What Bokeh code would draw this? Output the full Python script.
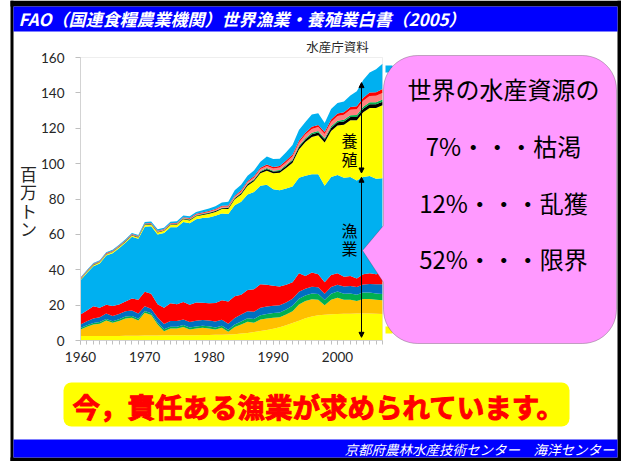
from bokeh.plotting import figure
from bokeh.models import (Range1d, FixedTicker, BoxAnnotation, PolyAnnotation,
                          Label, Arrow, NormalHead, ColumnDataSource, LinearAxis)
from bokeh.embed import file_html
from bokeh.resources import INLINE
import math

# ---------------- data (million tonnes, stacked layers) ----------------
years = list(range(1960, 2008))

cap_yellow = [2.5,2.5,2.5,2.5,2.6,2.6,2.6,2.7,2.7,2.7,
              2.8,2.8,2.8,2.9,3.0,3.0,3.0,3.0,3.0,3.1,
              3.1,3.2,3.3,3.4,3.6,3.9,4.3,4.8,5.4,6.0,
              6.6,7.5,8.6,9.9,11.2,12.6,13.6,14.3,14.6,14.8,
              15.0,15.1,15.1,15.2,15.2,15.2,15.1,15.0]
cap_orange = [3.7,5.3,6.5,7.0,8.7,7.4,8.4,9.8,10.2,8.6,
              12.9,11.6,6.2,2.4,3.8,3.8,4.6,3.2,3.8,4.1,
              3.7,3.0,3.9,1.5,4.0,5.1,6.3,5.2,6.5,6.5,
              6.3,5.7,6.1,6.7,9.2,9.7,9.7,8.7,5.3,8.2,
              9.2,7.9,7.9,7.1,8.3,8.3,7.9,7.7]
cap_green = [0.8,0.8,0.9,0.9,0.9,0.9,1.0,1.0,1.0,1.0,
             1.0,1.0,1.0,1.0,1.0,1.0,1.1,1.1,1.1,1.1,
             1.2,1.2,1.2,1.2,1.5,1.7,2.0,2.2,2.4,2.5,
             2.6,2.6,2.8,3.0,3.2,3.2,3.3,3.3,3.0,3.4,
             3.5,3.5,3.6,3.6,3.7,3.7,3.6,3.6]
cap_blue = [2.0,2.3,2.6,2.8,3.0,3.0,3.0,3.0,3.0,3.0,
            2.6,2.6,3.0,3.0,3.2,3.2,3.2,3.2,3.2,3.3,
            3.3,3.3,3.4,3.4,3.6,4.0,4.0,4.0,4.2,4.2,
            4.2,4.2,4.0,4.0,4.0,3.8,3.8,3.8,3.6,3.8,
            3.8,4.0,4.2,4.4,4.4,4.8,5.2,5.5]
cap_red = [5.7,6.1,6.8,5.3,5.0,5.6,5.4,5.5,6.9,7.7,
           8.3,8.5,7.5,9.2,10.0,9.5,9.9,9.7,10.4,9.7,
           9.7,10.5,10.9,12.5,12.3,11.1,11.9,12.8,13.3,12.3,
           11.3,10.5,10.0,9.4,10.4,7.2,8.1,7.4,6.5,6.8,
           6.5,5.5,5.7,4.7,5.9,6.0,5.7,6.2]
cap_sky = [19.3,21.2,22.7,25.1,27.8,29.8,31.8,33.2,34.8,34.5,
           36.7,38.1,39.5,42.3,43.0,43.5,45.2,46.1,47.0,47.9,
           48.6,49.3,49.1,49.5,51.5,52.7,54.0,55.0,55.7,56.5,
           54.5,54.5,54.5,54.0,54.0,56.7,55.5,56.5,54.5,55.5,
           55.6,56.0,56.0,55.5,55.0,55.0,54.0,53.7]
aq_yellow = [0.5,0.5,0.6,0.6,0.6,0.7,0.7,0.7,0.8,0.8,
             1.0,1.0,1.1,1.2,1.3,1.4,1.5,1.6,1.7,1.8,
             2.0,2.2,2.5,2.8,3.3,4.0,5.0,6.0,7.0,8.0,
             9.0,9.8,11.5,13.5,16.0,19.0,21.0,22.0,24.5,26.0,
             28.0,30.0,32.0,34.0,36.5,38.5,40.0,41.3]
aq_black = [0.2,0.2,0.2,0.2,0.2,0.2,0.2,0.2,0.2,0.2,
            0.3,0.3,0.3,0.3,0.3,0.3,0.4,0.4,0.4,0.4,
            0.5,0.5,0.5,0.6,0.6,0.7,0.8,0.8,0.9,1.0,
            1.0,1.1,1.2,1.3,1.4,1.5,1.6,1.6,1.6,1.7,
            1.8,1.8,1.9,1.9,2.0,2.0,2.0,2.0]
aq_green = [0.1,0.1,0.1,0.1,0.1,0.1,0.1,0.1,0.1,0.1,
            0.1,0.1,0.1,0.1,0.1,0.2,0.2,0.2,0.2,0.2,
            0.2,0.2,0.3,0.3,0.3,0.3,0.4,0.4,0.4,0.5,
            0.5,0.5,0.6,0.6,0.7,0.7,0.8,0.8,0.8,0.9,
            0.9,1.0,1.0,1.1,1.1,1.2,1.2,1.2]
aq_salmon = [0.2,0.2,0.2,0.2,0.2,0.2,0.2,0.2,0.2,0.2,
             0.2,0.2,0.3,0.3,0.3,0.3,0.3,0.4,0.4,0.4,
             0.5,0.5,0.6,0.6,0.7,0.8,0.9,1.0,1.1,1.2,
             1.3,1.4,1.5,1.7,1.9,2.0,2.2,2.3,2.3,2.5,
             2.6,2.8,3.0,3.2,3.4,3.6,3.7,3.8]
aq_red = [0.3,0.3,0.3,0.3,0.3,0.3,0.3,0.3,0.3,0.3,
          0.3,0.3,0.3,0.3,0.3,0.3,0.3,0.4,0.4,0.4,
          0.4,0.4,0.5,0.5,0.5,0.6,0.6,0.7,0.7,0.8,
          0.8,0.9,0.9,1.0,1.0,1.1,1.2,1.2,1.2,1.3,
          1.4,1.5,1.6,1.7,1.8,1.9,2.0,2.2]
aq_sky = [0.3,0.3,0.4,0.4,0.5,0.5,0.5,0.5,0.6,0.6,
          0.8,0.8,0.8,0.8,0.9,0.9,1.0,1.0,1.1,1.2,
          1.4,1.6,1.8,2.2,3.0,3.2,3.0,3.2,3.5,4.5,
          4.5,4.0,4.8,5.4,6.0,6.0,7.0,6.6,5.0,6.0,
          6.0,6.0,6.5,8.5,10.0,11.3,13.0,14.3]

series = ["cap_yellow", "cap_orange", "cap_green", "cap_blue", "cap_red", "cap_sky",
          "aq_yellow", "aq_black", "aq_green", "aq_salmon", "aq_red", "aq_sky"]
colors = ["#FFFF00", "#FFC000", "#00B050", "#0070C0", "#FF0000", "#00B0F0",
          "#FFFF00", "#000000", "#00B050", "#FF8080", "#FF0000", "#00B0F0"]

y_ticks = [0, 20, 40, 60, 80, 100, 120, 140, 160]
x_ticks = [1960, 1970, 1980, 1990, 2000]
Y_MAX = 160

# ---------------- layout constants (canvas pixels, y downward) ----------------
W, H = 621, 461
FL, FR, FT, FB = 80, 382, 57, 340   # plot area of the chart

kx = (FR - FL) / (years[-1] - years[0])
ky = (FB - FT) / Y_MAX

source = ColumnDataSource(dict(year=years, cap_yellow=cap_yellow, cap_orange=cap_orange,
                               cap_green=cap_green, cap_blue=cap_blue, cap_red=cap_red,
                               cap_sky=cap_sky, aq_yellow=aq_yellow, aq_black=aq_black,
                               aq_green=aq_green, aq_salmon=aq_salmon, aq_red=aq_red,
                               aq_sky=aq_sky))

# the frame covers the whole slide; default ranges are slide pixels,
# the chart uses its own ranges mapped onto the plot area
p = figure(width=W, height=H, output_backend="svg", toolbar_location=None,
           x_range=Range1d(0, W), y_range=Range1d(H, 0),
           x_axis_type=None, y_axis_type=None,
           min_border=0, min_border_left=0, min_border_right=0,
           min_border_top=0, min_border_bottom=0)
p.title.visible = False
p.background_fill_color = "white"
p.border_fill_color = "white"
p.outline_line_color = None
p.xgrid.visible = False
p.ygrid.visible = False
p.extra_x_ranges = {"yr": Range1d(years[0] - FL / kx, years[-1] + (W - FR) / kx)}
p.extra_y_ranges = {"mt": Range1d(0 - (H - FB) / ky, Y_MAX + FT / ky)}

p.varea_stack(stackers=series, x="year", color=colors, source=source,
              x_range_name="yr", y_range_name="mt")

# plot-area border
p.add_layout(BoxAnnotation(left=years[0], right=years[-1], bottom=0, top=Y_MAX,
                           x_range_name="yr", y_range_name="mt",
                           fill_alpha=0, line_color="#C8C8C8", line_width=1))

# axes
yaxis = LinearAxis(x_range_name="yr", y_range_name="mt", fixed_location=years[0],
                   bounds=(0, Y_MAX), ticker=FixedTicker(ticks=y_ticks))
yaxis.axis_line_color = "#D9D9D9"
yaxis.major_tick_line_color = "#BFBFBF"
yaxis.major_tick_out = 5
yaxis.major_tick_in = 0
yaxis.minor_tick_line_color = None
yaxis.major_label_standoff = 11
yaxis.major_label_text_font = "Lato"
yaxis.major_label_text_font_size = "13.5px"
yaxis.major_label_text_color = "#262626"
p.add_layout(yaxis, "left")

xaxis = LinearAxis(x_range_name="yr", y_range_name="mt", fixed_location=0,
                   bounds=(years[0], years[-1]),
                   ticker=FixedTicker(ticks=x_ticks, minor_ticks=years))
xaxis.axis_line_color = "#D9D9D9"
xaxis.major_tick_line_color = "#BFBFBF"
xaxis.minor_tick_line_color = "#BFBFBF"
xaxis.major_tick_out = 4
xaxis.major_tick_in = 0
xaxis.minor_tick_out = 4
xaxis.minor_tick_in = 0
xaxis.major_label_standoff = 7
xaxis.major_label_text_font = "Lato"
xaxis.major_label_text_font_size = "13.5px"
xaxis.major_label_text_color = "#262626"
p.add_layout(xaxis, "below")


def box(l, t, r, b, color, radius=0, line=None):
    p.add_layout(BoxAnnotation(left=l, right=r, top=t, bottom=b,
                               fill_color=color, fill_alpha=1.0,
                               line_color=line, border_radius=radius))


def label(x, y, text, size, color="black", font="Noto Sans CJK JP", style="normal",
          align="center", outline=None):
    lab = Label(x=x, y=y, text=text, text_font=font, text_font_size=size,
                text_color=color, text_font_style=style, text_align=align,
                text_baseline="middle")
    if outline is not None:
        lab.text_outline_color = outline
    p.add_layout(lab)


# slide frame and bars
box(10, 0, 621, 6, "black")
box(10, 0, 13, 461, "black")
box(617, 0, 621, 461, "black")
box(10, 457, 621, 461, "black")
box(13, 6, 617, 31, "#0000FF")
box(13, 439, 617, 457, "#0000FF")

label(18, 18, "FAO（国連食糧農業機関）世界漁業・養殖業白書（2005）", "17px", "white",
      style="bold italic", align="left")
label(614, 448, "京都府農林水産技術センター\u3000海洋センター", "13.5px", "white",
      style="italic", align="right")

# source note & y-axis title
label(337, 46, "水産庁資料", "12.5px", "#262626")
for i, ch in enumerate("百万トン"):
    label(28, 173 + i * 18.3, ch, "17px", "#262626")

# arrows and labels inside the chart
ax = years[0] + (361 - FL) / kx
head = dict(size=5, fill_color="black", line_color="black")
p.add_layout(Arrow(start=NormalHead(**head), end=NormalHead(**head),
                   x_start=ax, y_start=145.8, x_end=ax, y_end=94.7, line_width=1,
                   x_range_name="yr", y_range_name="mt"))
p.add_layout(Arrow(start=NormalHead(**head), end=NormalHead(**head),
                   x_start=ax, y_start=92.3, x_end=ax, y_end=1.8, line_width=1,
                   x_range_name="yr", y_range_name="mt"))
label(349, 139, "養", "16px")
label(349, 158, "殖", "16px")
label(349, 229, "漁", "16px")
label(349, 247, "業", "16px")

# legend markers peeking out from behind the callout
box(385, 65, 392, 72, "#00B0F0")
box(385, 326, 392, 333, "#FFFF00")

# callout
x0, y0, x1, y1, r = 383, 55, 616, 343, 34
pts = []


def arc(cx, cy, a0, a1, n=12):
    for k in range(n + 1):
        a = math.radians(a0 + (a1 - a0) * k / n)
        pts.append((cx + r * math.cos(a), cy + r * math.sin(a)))


arc(x0 + r, y0 + r, 180, 270)
arc(x1 - r, y0 + r, 270, 360)
arc(x1 - r, y1 - r, 0, 90)
arc(x0 + r, y1 - r, 90, 180)
pts += [(x0, 282), (362, 250), (x0, 225)]
p.add_layout(PolyAnnotation(xs=[a for a, _ in pts], ys=[b for _, b in pts],
                            fill_color="#FF99FF", fill_alpha=1.0,
                            line_color="#333333", line_width=1))
label(503, 88, "世界の水産資源の", "24px")
label(503, 145, "7%・・・枯渇", "24px")
label(503, 202, "12%・・・乱獲", "24px")
label(503, 258, "52%・・・限界", "24px")

# bottom message
box(63, 382, 569, 426, "#FFFF00", radius=8)
label(72, 405, "今，責任ある漁業が求められています。", "27.5px", "#FF0000",
      style="bold", align="left", outline="#FF0000")

open("out.html", "w").write(file_html(p, INLINE))
